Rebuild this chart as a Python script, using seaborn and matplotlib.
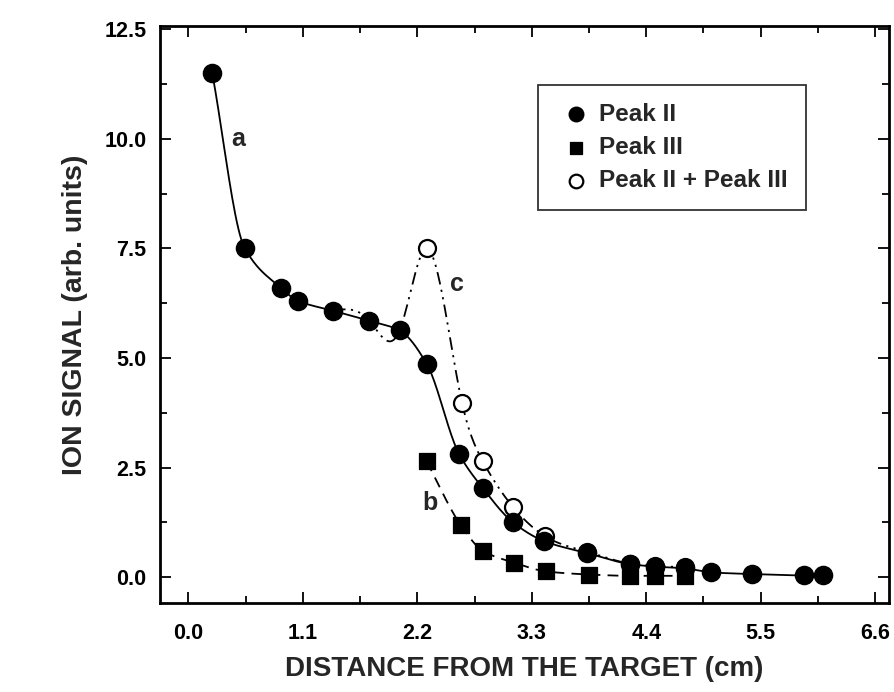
import numpy as np
import pandas as pd
import matplotlib
matplotlib.use("Agg")
import matplotlib.pyplot as plt
import seaborn as sns
from matplotlib.ticker import MultipleLocator, FixedLocator

sns.set_theme(style="ticks")
plt.rcParams['font.family'] = ['Liberation Sans Narrow', 'Liberation Sans', 'DejaVu Sans']

# ---- data ----
x_peak2 = [0.23, 0.54, 0.89, 1.05, 1.39, 1.74, 2.03, 2.29, 2.60, 2.83, 3.12, 3.42, 3.83,
           4.24, 4.48, 4.77, 5.02, 5.42, 5.92, 6.10]
y_peak2 = [11.5, 7.52, 6.60, 6.31, 6.08, 5.85, 5.63, 4.87, 2.82, 2.03, 1.25, 0.82, 0.55,
           0.30, 0.24, 0.20, 0.11, 0.07, 0.04, 0.04]

x_peak3 = [2.29, 2.62, 2.83, 3.13, 3.44, 3.85, 4.24, 4.48, 4.77]
y_peak3 = [2.64, 1.18, 0.60, 0.33, 0.13, 0.06, 0.03, 0.03, 0.03]

x_sum = [2.29, 2.63, 2.83, 3.12, 3.43, 3.83, 4.24, 4.48, 4.77]
y_sum = [7.50, 3.98, 2.64, 1.60, 0.93, 0.58, 0.31, 0.26, 0.22]

# curve c continues the Peak II points below 2.2 cm (Peak III is zero there)
x_curve_c = [1.39, 1.74, 2.03] + x_sum
y_curve_c = [6.08, 5.85, 5.63] + y_sum

labels = ["Peak II", "Peak III", "Peak II + Peak III"]
x_ticks = [0.0, 1.1, 2.2, 3.3, 4.4, 5.5, 6.6]
y_ticks = [0.0, 2.5, 5.0, 7.5, 10.0, 12.5]


# ---- smoothing helpers for the drawn curves ----
def pchip(x, y, n=400):
    x = np.asarray(x, float); y = np.asarray(y, float)
    h = np.diff(x); d = np.diff(y) / h
    m = np.zeros_like(y)
    for k in range(1, len(x) - 1):
        if d[k - 1] * d[k] > 0:
            w1 = 2 * h[k] + h[k - 1]; w2 = h[k] + 2 * h[k - 1]
            m[k] = (w1 + w2) / (w1 / d[k - 1] + w2 / d[k])
    m[0] = d[0]; m[-1] = d[-1]
    xs = np.linspace(x[0], x[-1], n)
    idx = np.clip(np.searchsorted(x, xs) - 1, 0, len(x) - 2)
    t = (xs - x[idx]) / h[idx]
    h00 = 2 * t**3 - 3 * t**2 + 1; h10 = t**3 - 2 * t**2 + t
    h01 = -2 * t**3 + 3 * t**2; h11 = t**3 - t**2
    ys = h00 * y[idx] + h10 * h[idx] * m[idx] + h01 * y[idx + 1] + h11 * h[idx] * m[idx + 1]
    return xs, ys


def natural_spline(x, y, n=400):
    x = np.asarray(x, float); y = np.asarray(y, float)
    N = len(x); h = np.diff(x)
    A = np.zeros((N, N)); r = np.zeros(N)
    A[0, 0] = 1; A[-1, -1] = 1
    for i in range(1, N - 1):
        A[i, i - 1] = h[i - 1]; A[i, i] = 2 * (h[i - 1] + h[i]); A[i, i + 1] = h[i]
        r[i] = 6 * ((y[i + 1] - y[i]) / h[i] - (y[i] - y[i - 1]) / h[i - 1])
    M = np.linalg.solve(A, r)
    xs = np.linspace(x[0], x[-1], n)
    idx = np.clip(np.searchsorted(x, xs) - 1, 0, N - 2)
    a = x[idx + 1] - xs; b = xs - x[idx]; hh = h[idx]
    ys = (M[idx] * a**3 + M[idx + 1] * b**3) / (6 * hh) + \
         (y[idx] / hh - M[idx] * hh / 6) * a + (y[idx + 1] / hh - M[idx + 1] * hh / 6) * b
    return xs, ys


fig, ax = plt.subplots(figsize=(8.95, 6.92), dpi=100)
fig.subplots_adjust(left=0.179, right=0.993, top=0.962, bottom=0.128)

xa, ya = pchip(x_peak2, y_peak2)
xb, yb = pchip(x_peak3, y_peak3)
xc, yc = natural_spline(x_curve_c, y_curve_c)

sns.lineplot(x=xa, y=ya, ax=ax, color="black", lw=1.3, estimator=None, sort=False)
sns.lineplot(x=xb, y=yb, ax=ax, color="black", lw=1.3, estimator=None, sort=False,
             dashes=False).lines[-1].set_dashes((6, 4))
lc = sns.lineplot(x=xc, y=yc, ax=ax, color="black", lw=1.3, estimator=None, sort=False).lines[-1]
lc.set_dashes((7, 3, 1.2, 3, 1.2, 3))

sns.scatterplot(x=x_sum, y=y_sum, ax=ax, marker="o", s=150, facecolor="white",
                edgecolor="black", linewidth=1.6, zorder=3, label=labels[2])
sns.scatterplot(x=x_peak3, y=y_peak3, ax=ax, marker="s", s=130, color="black",
                edgecolor="black", zorder=4, label=labels[1])
sns.scatterplot(x=x_peak2, y=y_peak2, ax=ax, marker="o", s=170, color="black",
                edgecolor="black", zorder=5, label=labels[0])

ax.text(0.48, 10.0, "a", fontsize=18, fontweight="bold", ha="center", va="center")
ax.text(2.32, 1.69, "b", fontsize=18, fontweight="bold", ha="center", va="center")
ax.text(2.58, 6.70, "c", fontsize=18, fontweight="bold", ha="center", va="center")

ax.set_xlim(-0.27, 6.73)
ax.set_ylim(-0.6, 12.57)
ax.xaxis.set_major_locator(FixedLocator(x_ticks))
ax.yaxis.set_major_locator(FixedLocator(y_ticks))
ax.xaxis.set_minor_locator(MultipleLocator(0.55))
ax.yaxis.set_minor_locator(MultipleLocator(1.25))
ax.set_xticklabels([f"{v:.1f}" for v in x_ticks])
ax.set_yticklabels([f"{v:.1f}" for v in y_ticks])
ax.tick_params(which="both", direction="in", top=True, right=True, width=1.3, colors="black")
ax.tick_params(which="major", length=8, labelsize=15.5)
ax.tick_params(axis="x", which="major", pad=14)
ax.tick_params(axis="y", which="major", pad=10)
ax.tick_params(which="minor", length=5)
for lab in ax.get_xticklabels() + ax.get_yticklabels():
    lab.set_fontweight("bold")
for sp in ax.spines.values():
    sp.set_linewidth(2.0)
    sp.set_color("black")

ax.set_xlabel("DISTANCE FROM THE TARGET (cm)", fontsize=20, fontweight="bold", labelpad=9)
ax.set_ylabel("ION SIGNAL (arb. units)", fontsize=20.5, fontweight="bold", labelpad=12)

handles, labs = ax.get_legend_handles_labels()
order = [labs.index(l) for l in labels]
leg = ax.legend([handles[i] for i in order], [labs[i] for i in order],
                loc="upper left", bbox_to_anchor=(0.502, 0.92), frameon=True, fancybox=False,
                edgecolor="black", prop={"size": 17.5, "weight": "bold"}, handletextpad=0.15,
                handlelength=1.6, borderpad=0.75, labelspacing=0.42, markerscale=0.8)
leg.get_frame().set_linewidth(1.3)

fig.savefig("out.png", dpi=100)
